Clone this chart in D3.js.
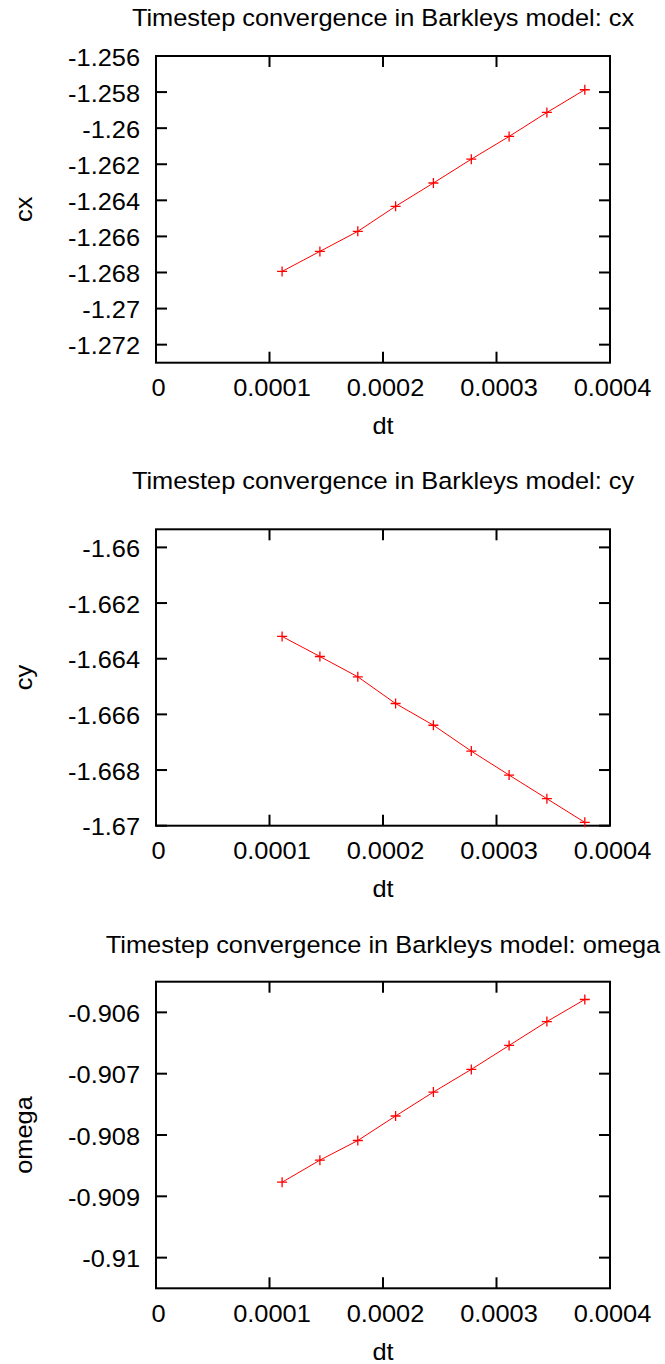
<!DOCTYPE html>
<html>
<head>
<meta charset="utf-8">
<script src="https://cdn.jsdelivr.net/npm/d3@7"></script>
<style>
  body { margin: 0; background: #fff; }
  svg { display: block; }
  text { font-family: "Liberation Sans", Arial, Helvetica, sans-serif; fill: #000; }
</style>
</head>
<body>
<svg id="chart" width="665" height="1364"></svg>
<script>
// Time steps (same for every panel).
const dt = [1.111e-4, 1.444e-4, 1.778e-4, 2.111e-4, 2.444e-4, 2.778e-4, 3.111e-4, 3.444e-4, 3.778e-4];

// Measured quantities.
const cx = [-1.26794, -1.26683, -1.26572, -1.26433, -1.26304, -1.26172, -1.26046, -1.25913, -1.25787];
const cy = [-1.66320, -1.66392, -1.66465, -1.66561, -1.66639, -1.66732, -1.66818, -1.66903, -1.66988];
const omega = [-0.90877, -0.90841, -0.90809, -0.90769, -0.90730, -0.90693, -0.90654, -0.90615, -0.90579];

// Axis ticks.
const xTicks = [0, 0.0001, 0.0002, 0.0003, 0.0004];
const cxTicks = [-1.256, -1.258, -1.26, -1.262, -1.264, -1.266, -1.268, -1.27, -1.272];
const cyTicks = [-1.66, -1.662, -1.664, -1.666, -1.668, -1.67];
const omegaTicks = [-0.906, -0.907, -0.908, -0.909, -0.91];

// Axis ranges.
const xDomain = [0, 0.0004];
const cxDomain = [-1.273, -1.256];
const cyDomain = [-1.67, -1.65935];
const omegaDomain = [-0.9105, -0.9055];

const panels = [
  { name: "cx", values: cx, ticks: cxTicks, domain: cxDomain, top: 56, bottom: 362.7, titleY: 25.5 },
  { name: "cy", values: cy, ticks: cyTicks, domain: cyDomain, top: 529.3, bottom: 825.7, titleY: 488.5 },
  { name: "omega", values: omega, ticks: omegaTicks, domain: omegaDomain, top: 981.7, bottom: 1288.3, titleY: 952.5 },
];

const left = 156, right = 610;
const fontSize = 23.5, stretch = 1.08, tickLen = 11;
// plain hyphen for negatives, like gnuplot
const fmt = d3.formatLocale({ decimal: ".", thousands: ",", grouping: [3], currency: ["", ""], minus: "-" }).format("~g");

const svg = d3.select("#chart");

// Text drawn slightly wider than the font, as in the original raster.
function label(g, x, y, str, anchor, rotate) {
  const t = rotate ? `translate(${x},${y}) rotate(-90) scale(${stretch},1)` : `translate(${x},${y}) scale(${stretch},1)`;
  g.append("text")
    .attr("transform", t)
    .attr("text-anchor", anchor)
    .attr("font-size", fontSize)
    .text(str);
}

panels.forEach((p) => {
  const g = svg.append("g");
  const x = d3.scaleLinear().domain(xDomain).range([left, right]);
  const y = d3.scaleLinear().domain(p.domain).range([p.bottom, p.top]);

  // Ticks on all four sides, gnuplot style.
  const tk = g.append("g").attr("stroke", "#000").attr("stroke-width", 2);
  for (const v of p.ticks) {
    tk.append("line").attr("x1", left).attr("x2", left + tickLen).attr("y1", y(v)).attr("y2", y(v));
    tk.append("line").attr("x1", right - tickLen).attr("x2", right).attr("y1", y(v)).attr("y2", y(v));
    label(g, left - 16, y(v) + 9.5, fmt(v), "end");
  }
  for (const v of xTicks) {
    tk.append("line").attr("x1", x(v)).attr("x2", x(v)).attr("y1", p.bottom).attr("y2", p.bottom - tickLen);
    tk.append("line").attr("x1", x(v)).attr("x2", x(v)).attr("y1", p.top).attr("y2", p.top + tickLen);
    label(g, x(v) + 2.5, p.bottom + 33.5, fmt(v), "middle");
  }

  // Border.
  g.append("rect")
    .attr("x", left).attr("y", p.top)
    .attr("width", right - left).attr("height", p.bottom - p.top)
    .attr("fill", "none").attr("stroke", "#000").attr("stroke-width", 2);

  // Data line and "+" markers.
  const pts = dt.map((d, i) => [x(d), y(p.values[i])]);
  g.append("path")
    .attr("d", d3.line()(pts))
    .attr("fill", "none").attr("stroke", "#ff0000").attr("stroke-width", 1);
  const m = 5;
  g.append("g").selectAll("path").data(pts).join("path")
    .attr("d", (d) => `M${d[0] - m},${d[1]}H${d[0] + m}M${d[0]},${d[1] - m}V${d[1] + m}`)
    .attr("stroke", "#ff0000").attr("stroke-width", 1.3).attr("fill", "none");

  // Labels.
  label(g, (left + right) / 2, p.titleY, `Timestep convergence in Barkleys model: ${p.name}`, "middle");
  label(g, (left + right) / 2, p.bottom + 71.5, "dt", "middle");
  label(g, 31.5, (p.top + p.bottom) / 2, p.name, "middle", true);
});
</script>
</body>
</html>
